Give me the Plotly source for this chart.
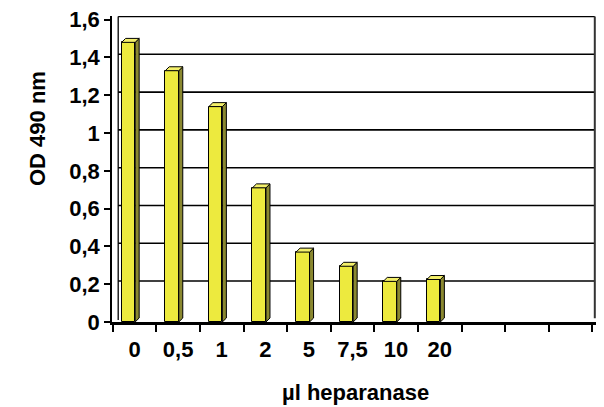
import plotly.graph_objects as go

categories = ["0", "0,5", "1", "2", "5", "7,5", "10", "20", "", "", ""]
values = [1.48, 1.33, 1.14, 0.71, 0.37, 0.295, 0.215, 0.225]
ytick_vals = [0, 0.2, 0.4, 0.6, 0.8, 1.0, 1.2, 1.4, 1.6]
ytick_text = ["0", "0,2", "0,4", "0,6", "0,8", "1", "1,2", "1,4", "1,6"]
x_title = "µl heparanase"
y_title = "OD 490 nm"

FRONT = "#EDEA3E"
SIDE = "#8A8830"
TOP = "#F3EF6A"
FONT = "Liberation Sans, Arial, sans-serif"
FS = 22

n = len(categories)
xpos = list(range(n))
off = -0.14      # front face shift in category units
bw = 0.31        # front face width
dx = 0.092       # depth offset (x, data units)
dy = 0.021       # depth offset (y, data units)

L, R, T, B = 112, 596, 16, 322
W, H = 604, 407
xpx = (592.3 - 112.7) / 11.0
x0 = -0.5 - (112.7 - L) / xpx
x1 = 10.5 + (R - 592.3) / xpx
ypx = (322 - 19.7) / 1.6
y1 = 1.6 + (19.7 - T) / ypx

fig = go.Figure()

wall_x = -0.5 + 5.5 / xpx
for v in ytick_vals[1:]:
    fig.add_shape(type="line", xref="x", yref="y", x0=wall_x, x1=x1 - 1.2 / xpx,
                  y0=v + dy * 0.8, y1=v + dy * 0.8, line=dict(color="black", width=1.6), layer="below")
fig.add_shape(type="line", xref="x", yref="y", x0=x1 - 1.2 / xpx, x1=x1 - 1.2 / xpx,
              y0=0.02, y1=1.6 + dy * 0.8, line=dict(color="#333333", width=2), layer="below")
fig.add_shape(type="line", xref="x", yref="y", x0=wall_x, x1=wall_x,
              y0=0.01, y1=1.6 + dy * 0.8, line=dict(color="black", width=1.3), layer="below")

bx = [xpos[i] + off for i in range(len(values))]
fig.add_trace(go.Bar(x=bx, y=values, width=bw, marker=dict(color=FRONT, line=dict(color="black", width=1)),
                     hoverinfo="skip", showlegend=False))

for i, v in enumerate(values):
    xl = bx[i] - bw / 2
    xr = bx[i] + bw / 2
    fig.add_trace(go.Scatter(x=[xr, xr + dx, xr + dx, xr, xr], y=[0, dy, v + dy, v, 0],
                             mode="lines", fill="toself", fillcolor=SIDE,
                             line=dict(color="black", width=1), hoverinfo="skip", showlegend=False))
    fig.add_trace(go.Scatter(x=[xl, xl + dx, xr + dx, xr, xl], y=[v, v + dy, v + dy, v, v],
                             mode="lines", fill="toself", fillcolor=TOP,
                             line=dict(color="black", width=1), hoverinfo="skip", showlegend=False))

fig.add_trace(go.Scatter(x=[None], y=[None], xaxis="x2", showlegend=False))

# axis titles as annotations (pixel placement)
fig.add_annotation(text="<b>%s</b>" % x_title, xref="paper", yref="paper",
                   x=(355 - L) / (R - L), y=-(392 - B) / (B - T), xanchor="center", yanchor="middle",
                   showarrow=False, font=dict(family=FONT, size=FS, color="black"))
fig.add_annotation(text="<b>%s</b>" % y_title, xref="paper", yref="paper",
                   x=-(L - 37) / (R - L), y=(B - 129) / (B - T), xanchor="center", yanchor="middle",
                   textangle=-90, showarrow=False, font=dict(family=FONT, size=FS, color="black"))

fig.update_layout(
    width=W, height=H,
    margin=dict(l=L, r=W - R, t=T, b=H - B, autoexpand=False),
    paper_bgcolor="white", plot_bgcolor="white",
    font=dict(family=FONT, size=FS, color="black"),
    bargap=0,
    xaxis=dict(range=[x0, x1], tickmode="array", tickvals=[i - 0.5 for i in range(n + 1)],
               ticktext=[""] * (n + 1), ticks="outside", ticklen=7, tickwidth=1.5, tickcolor="black",
               showgrid=False, zeroline=False, showline=True, linecolor="black", linewidth=2.5,
               fixedrange=True, automargin=False),
    xaxis2=dict(range=[x0, x1], overlaying="x", side="bottom", tickmode="array",
                tickvals=xpos, ticktext=categories, ticks="", showgrid=False, zeroline=False,
                showline=False, tickfont=dict(family=FONT, size=FS, color="black", weight="bold"),
                ticklabelstandoff=12, automargin=False),
    yaxis=dict(range=[0, y1], tickmode="array", tickvals=ytick_vals, ticktext=ytick_text,
               ticks="outside", ticklen=6, tickwidth=1.5, tickcolor="black",
               showgrid=False, zeroline=False, showline=True, linecolor="black", linewidth=1.5,
               tickfont=dict(family=FONT, size=FS, color="black", weight="bold"),
               fixedrange=True, automargin=False),
)

fig.write_html("out.html", config={"displayModeBar": False},
               post_script="document.body.style.margin='0px';")
